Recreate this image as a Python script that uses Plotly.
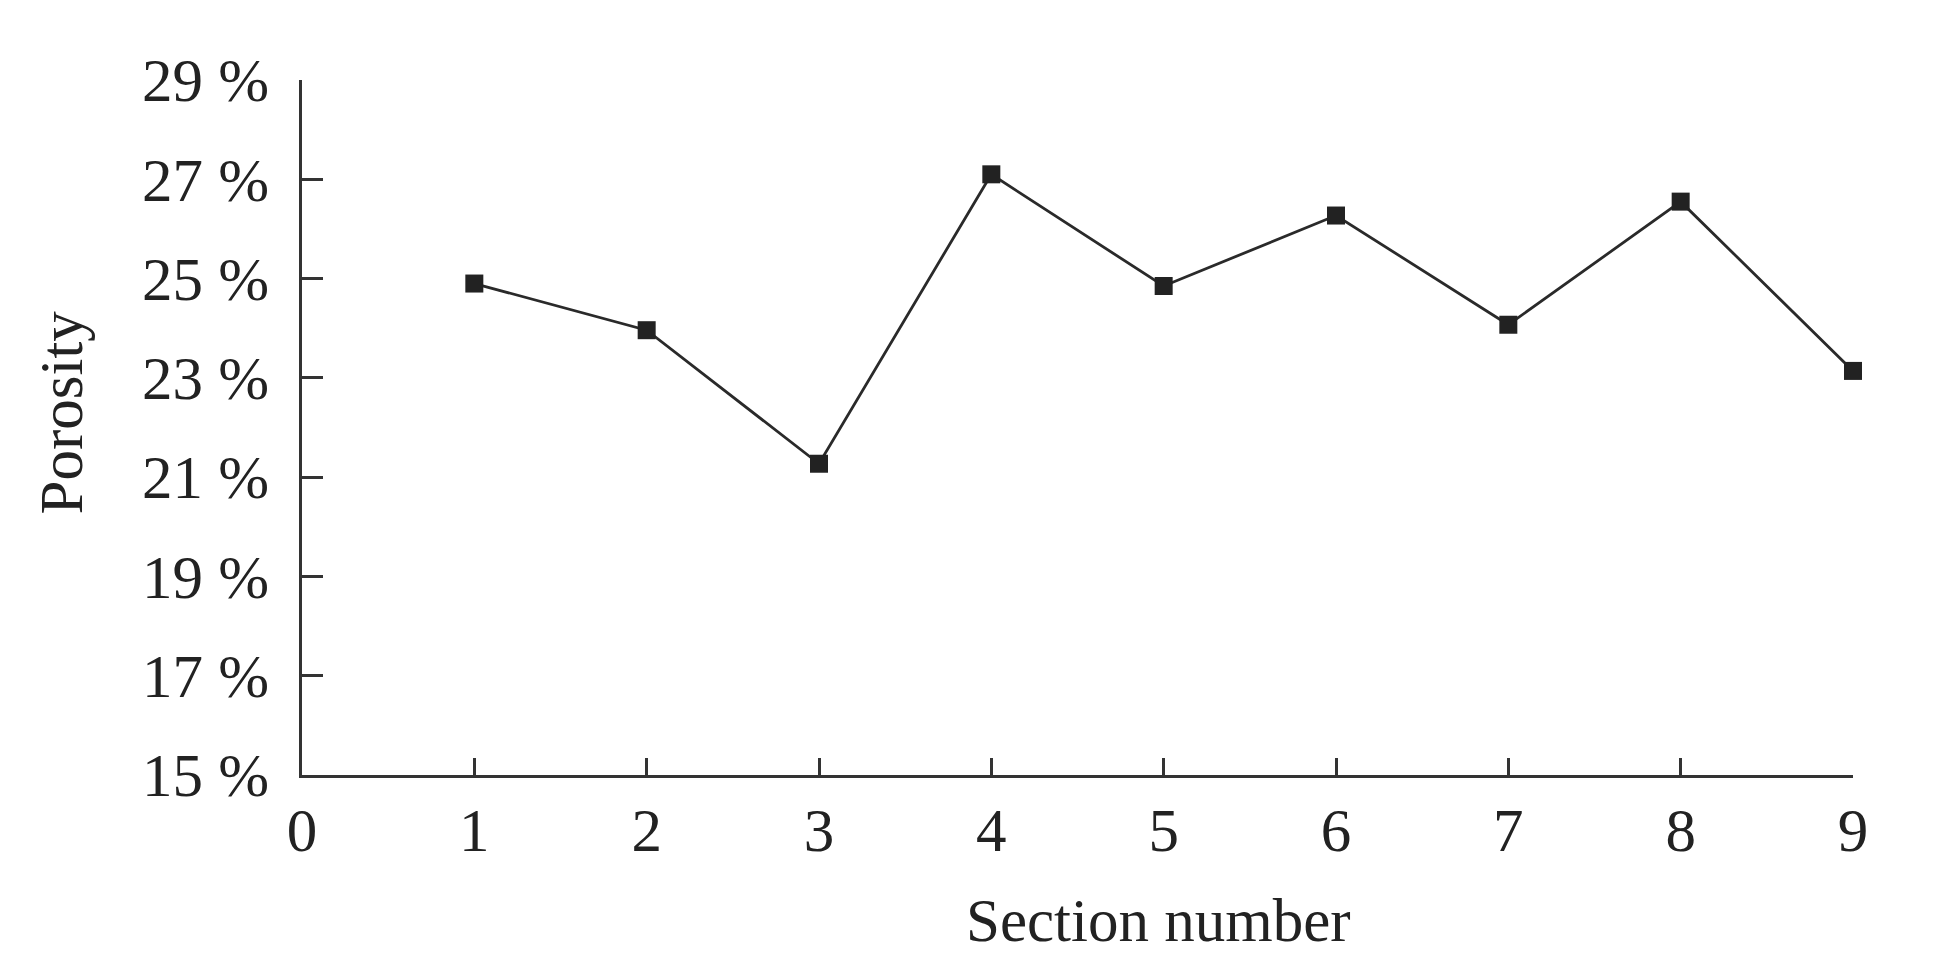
import plotly.graph_objects as go

sections = [1, 2, 3, 4, 5, 6, 7, 8, 9]
porosity = [24.9, 23.96, 21.27, 27.1, 24.85, 26.27, 24.07, 26.55, 23.14]
x_ticks = [0, 1, 2, 3, 4, 5, 6, 7, 8, 9]
y_ticks = [15, 17, 19, 21, 23, 25, 27, 29]
y_labels = [f"{v} %" for v in y_ticks]
x_title = "Section number"
y_title = "Porosity"

FONT = "Liberation Serif, Times New Roman, serif"
INK = "#222222"
FS = 61

fig = go.Figure()
fig.add_trace(go.Scatter(
    x=sections, y=porosity, mode="lines+markers",
    line=dict(color="#2a2a2a", width=2.8),
    marker=dict(symbol="square", size=18, color="#222222"),
    showlegend=False, cliponaxis=False,
))

fig.update_layout(
    width=1953, height=977,
    paper_bgcolor="white", plot_bgcolor="white",
    margin=dict(l=294, r=108, t=72, b=210, autoexpand=False),
    font=dict(family=FONT, size=FS, color=INK),
)
fig.update_xaxes(
    range=[0, 9], tickvals=x_ticks, ticktext=[str(v) for v in x_ticks],
    showline=True, linecolor="#333333", linewidth=2.5,
    ticks="inside", ticklen=17, tickwidth=2.5, tickcolor="#333333",
    showgrid=False, zeroline=False,
    tickfont=dict(family=FONT, size=FS, color=INK),
    automargin=False,
)
fig.update_yaxes(
    range=[15, 29], tickvals=y_ticks, ticktext=y_labels,
    showline=True, linecolor="#333333", linewidth=2.5,
    ticks="inside", ticklen=21, tickwidth=2.5, tickcolor="#333333",
    showgrid=False, zeroline=False,
    tickfont=dict(family=FONT, size=FS, color=INK),
    ticklabelstandoff=18,
    automargin=False,
)

fig.add_annotation(
    text=x_title, xref="x", x=4.97, yref="paper", y=-0.21,
    xanchor="center", yanchor="middle", showarrow=False,
    font=dict(family=FONT, size=FS, color=INK),
)
fig.add_annotation(
    text=y_title, xref="paper", x=-0.155, yref="paper", y=0.521,
    xanchor="center", yanchor="middle", showarrow=False, textangle=-90,
    font=dict(family=FONT, size=FS, color=INK),
)

fig.write_html("out.html")
